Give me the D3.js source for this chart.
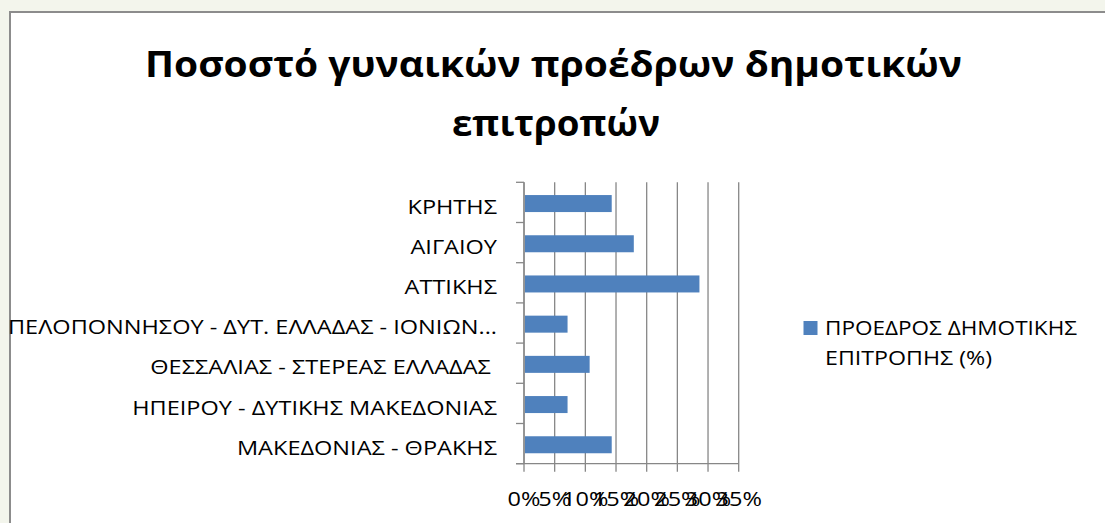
<!DOCTYPE html>
<html><head><meta charset="utf-8">
<script src="https://cdn.jsdelivr.net/npm/d3@7"></script>
<style>html,body{margin:0;padding:0;background:#f3f5ec;overflow:hidden}</style>
</head><body>
<svg id="c" width="1105" height="523"></svg>
<script>
const categories = ["ΜΑΚΕΔΟΝΙΑΣ - ΘΡΑΚΗΣ","ΗΠΕΙΡΟΥ - ΔΥΤΙΚΗΣ ΜΑΚΕΔΟΝΙΑΣ","ΘΕΣΣΑΛΙΑΣ - ΣΤΕΡΕΑΣ ΕΛΛΑΔΑΣ ","ΠΕΛΟΠΟΝΝΗΣΟΥ - ΔΥΤ. ΕΛΛΑΔΑΣ - ΙΟΝΙΩΝ...","ΑΤΤΙΚΗΣ","ΑΙΓΑΙΟΥ","ΚΡΗΤΗΣ"];
const values = [14.3, 7.1, 10.7, 7.1, 28.6, 17.9, 14.3];
const xTicks = [0,5,10,15,20,25,30,35];
const seriesName = ["ΠΡΟΕΔΡΟΣ ΔΗΜΟΤΙΚΗΣ","ΕΠΙΤΡΟΠΗΣ (%)"];
const titleLines = ["Ποσοστό γυναικών προέδρων δημοτικών","επιτροπών"];

const svg = d3.select("#c");
const F = "'Open Sans', 'Liberation Sans', sans-serif";
// chart area
svg.append("rect").attr("x",10).attr("y",12).attr("width",1200).attr("height",600)
  .attr("fill","#fff").attr("stroke","#8c8c8c").attr("stroke-width",2);

const L=524, R=738.7, T=182.3, B=463.7;
const x = d3.scaleLinear().domain([0,35]).range([L,R]);
const y = d3.scaleBand().domain(categories.slice().reverse()).range([T,B]).paddingInner(0.575).paddingOuter(0.2875);

// gridlines
svg.append("g").selectAll("line").data(xTicks).join("line")
  .attr("x1",d=>x(d)).attr("x2",d=>x(d)).attr("y1",T).attr("y2",B+8)
  .attr("stroke","#878787").attr("stroke-width",1.3);
// y axis line & ticks
svg.append("line").attr("x1",L).attr("x2",L).attr("y1",T).attr("y2",B).attr("stroke","#878787").attr("stroke-width",1.3);
const band = (B-T)/categories.length;
svg.append("g").selectAll("line").data(d3.range(categories.length+1)).join("line")
  .attr("x1",L-8).attr("x2",L).attr("y1",i=>T+i*band).attr("y2",i=>T+i*band)
  .attr("stroke","#878787").attr("stroke-width",1.3);
svg.append("line").attr("x1",L-8).attr("x2",R).attr("y1",B).attr("y2",B).attr("stroke","#878787").attr("stroke-width",1.3);

// bars
svg.append("g").selectAll("rect").data(categories).join("rect")
  .attr("x",L+1).attr("y",d=>y(d)+1.2).attr("height",17)
  .attr("width",(d,i)=>x(values[i])-L-1).attr("fill","#4f81bd");

function fit(sel, w){ sel.attr("textLength",w).attr("lengthAdjust","spacingAndGlyphs"); }

// category labels
const lab = svg.append("g").selectAll("text").data(categories).join("text")
  .attr("x",497).attr("y",d=>y(d)+y.bandwidth()/2+1.2+10)
  .attr("text-anchor","end").attr("font-family",F).attr("font-size",19.5).attr("fill","#000")
  .attr("xml:space","preserve").style("white-space","pre")
  .text(d=>d);
const ref = lab.filter((d,i)=>i===3).node();
const ratio = 489/ref.getComputedTextLength();
lab.each(function(){ fit(d3.select(this), this.getComputedTextLength()*ratio); });

// x tick labels
const xl = svg.append("g").selectAll("text").data(xTicks).join("text")
  .attr("x",d=>x(d)).attr("y",506).attr("text-anchor","middle")
  .attr("font-family",F).attr("font-size",19.5).attr("fill","#000").text(d=>d+"%");
xl.each(function(){ fit(d3.select(this), this.getComputedTextLength()*ratio); });

// legend
svg.append("rect").attr("x",803.5).attr("y",321).attr("width",14).attr("height",14).attr("fill","#4f81bd");
const lg = svg.append("g").selectAll("text").data(seriesName).join("text")
  .attr("x",825).attr("y",(d,i)=>335+i*30).attr("font-family",F).attr("font-size",19.5).attr("fill","#000").text(d=>d);
const lgT=[252,167];
lg.each(function(d,i){ fit(d3.select(this), lgT[i]); });

// title
const tt = svg.append("g").selectAll("text").data(titleLines).join("text")
  .attr("x",(d,i)=>i?556:553.5).attr("y",(d,i)=>77+i*59).attr("text-anchor","middle")
  .attr("font-family",F).attr("font-weight","bold").attr("font-size",36).attr("fill","#000").text(d=>d);
const tT=[817,208];
tt.each(function(d,i){ fit(d3.select(this), tT[i]); });
</script>
</body></html>
